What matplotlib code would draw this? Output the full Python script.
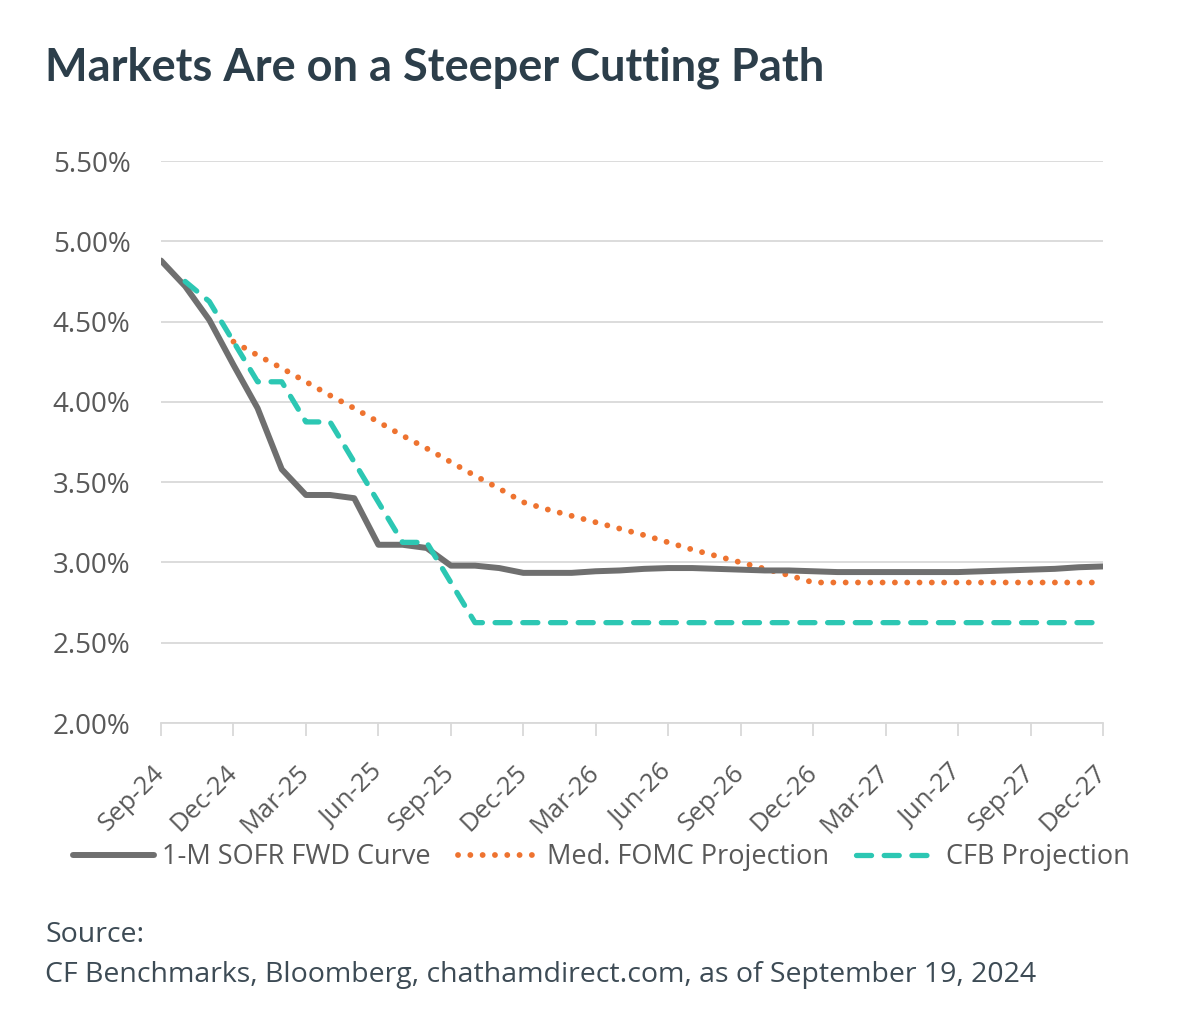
import matplotlib
matplotlib.use("Agg")
import matplotlib.pyplot as plt
import numpy as np

# ---------------- data ----------------
months = ["Sep-24","Oct-24","Nov-24","Dec-24","Jan-25","Feb-25","Mar-25","Apr-25","May-25","Jun-25",
          "Jul-25","Aug-25","Sep-25","Oct-25","Nov-25","Dec-25","Jan-26","Feb-26","Mar-26","Apr-26",
          "May-26","Jun-26","Jul-26","Aug-26","Sep-26","Oct-26","Nov-26","Dec-26","Jan-27","Feb-27",
          "Mar-27","Apr-27","May-27","Jun-27","Jul-27","Aug-27","Sep-27","Oct-27","Nov-27","Dec-27"]

sofr = [4.88, 4.72, 4.51, 4.23, 3.96, 3.58, 3.42, 3.42, 3.40, 3.11,
        3.11, 3.09, 2.98, 2.98, 2.965, 2.935, 2.935, 2.935, 2.945, 2.95,
        2.96, 2.965, 2.965, 2.96, 2.955, 2.95, 2.95, 2.945, 2.94, 2.94,
        2.94, 2.94, 2.94, 2.94, 2.945, 2.95, 2.955, 2.96, 2.97, 2.975]

fomc = [None, None, None, 4.375, 4.29, 4.21, 4.125, 4.04, 3.96, 3.875,
        3.79, 3.71, 3.625, 3.54, 3.46, 3.375, 3.33, 3.29, 3.25, 3.21,
        3.17, 3.125, 3.08, 3.04, 3.00, 2.96, 2.92, 2.875, 2.875, 2.875,
        2.875, 2.875, 2.875, 2.875, 2.875, 2.875, 2.875, 2.875, 2.875, 2.875]

cfb = [None, 4.75, 4.625, 4.375, 4.125, 4.125, 3.875, 3.875, 3.625, 3.375,
       3.125, 3.125, 2.875, 2.625, 2.625, 2.625, 2.625, 2.625, 2.625, 2.625,
       2.625, 2.625, 2.625, 2.625, 2.625, 2.625, 2.625, 2.625, 2.625, 2.625,
       2.625, 2.625, 2.625, 2.625, 2.625, 2.625, 2.625, 2.625, 2.625, 2.625]

yticks = [2.0, 2.5, 3.0, 3.5, 4.0, 4.5, 5.0, 5.5]
series_names = ["1-M SOFR FWD Curve", "Med. FOMC Projection", "CFB Projection"]

title = "Markets Are on a Steeper Cutting Path"
source1 = "Source:"
source2 = "CF Benchmarks, Bloomberg, chathamdirect.com, as of September 19, 2024"

# ---------------- style ----------------
FONT = ["Open Sans", "DejaVu Sans"]
TITLE_FONT = ["Lato", "DejaVu Sans"]
plt.rcParams["font.family"] = FONT
GRAY_TXT = "#595959"
DARK = "#2c3e4a"
C_SOFR = "#6f6f6f"
C_FOMC = "#ee7330"
C_CFB = "#2cc7b3"
GRID = "#d9d9d9"

fig = plt.figure(figsize=(11.82, 10.34), dpi=100)
ax = fig.add_axes([161/1182, 1-723/1034, (1103-161)/1182, (723-161)/1034])

x = np.arange(len(months))
to_arr = lambda s: np.array([np.nan if v is None else v for v in s], dtype=float)

ax.plot(x, to_arr(sofr), color=C_SOFR, lw=4.3, solid_capstyle="round",
        solid_joinstyle="round", label=series_names[0], zorder=3)
ax.plot(x, to_arr(fomc), color=C_FOMC, lw=4.2, linestyle=(0, (0.01, 2.1)),
        dash_capstyle="round", label=series_names[1], zorder=2)
ax.plot(x, to_arr(cfb), color=C_CFB, lw=3.8, linestyle=(0, (2.85, 2.4)),
        dash_capstyle="round", label=series_names[2], zorder=4)

ax.set_xlim(0, len(months)-1)
ax.set_ylim(2.0, 5.5)
ax.set_yticks(yticks)
ax.set_yticklabels([f"{v:.2f}%" for v in yticks])
ax.yaxis.grid(True, color=GRID, lw=1.3)
ax.set_axisbelow(True)
ax.tick_params(axis="y", length=0, pad=22, labelsize=20, labelcolor=GRAY_TXT)

tick_idx = list(range(0, len(months), 3))
ax.set_xticks(tick_idx)
ax.set_xticklabels([months[i] for i in tick_idx], rotation=45, ha="right",
                   va="center", rotation_mode="anchor")
ax.tick_params(axis="x", length=9, width=1.3, color=GRID, pad=24,
               labelsize=18.5, labelcolor=GRAY_TXT)

for s in ["top", "right", "left"]:
    ax.spines[s].set_visible(False)
ax.spines["bottom"].set_color(GRID)
ax.spines["bottom"].set_linewidth(1.3)

leg = fig.legend(loc="center", bbox_to_anchor=(601/1182, 1-857/1034), ncol=3,
                 frameon=False, fontsize=19.5, handlelength=3.0,
                 handletextpad=0.3, columnspacing=1.0, labelcolor=GRAY_TXT)

fig.text(45/1182, 1-68/1034, title, fontsize=32.5, fontweight="bold",
         color=DARK, va="center", ha="left", family=TITLE_FONT)
fig.text(45/1182, 1-935/1034, source1, fontsize=20.5, color="#3d4b55",
         va="center", ha="left")
fig.text(45/1182, 1-975/1034, source2, fontsize=20.5, color="#3d4b55",
         va="center", ha="left")

fig.savefig("out.png", dpi=100, facecolor="white")
